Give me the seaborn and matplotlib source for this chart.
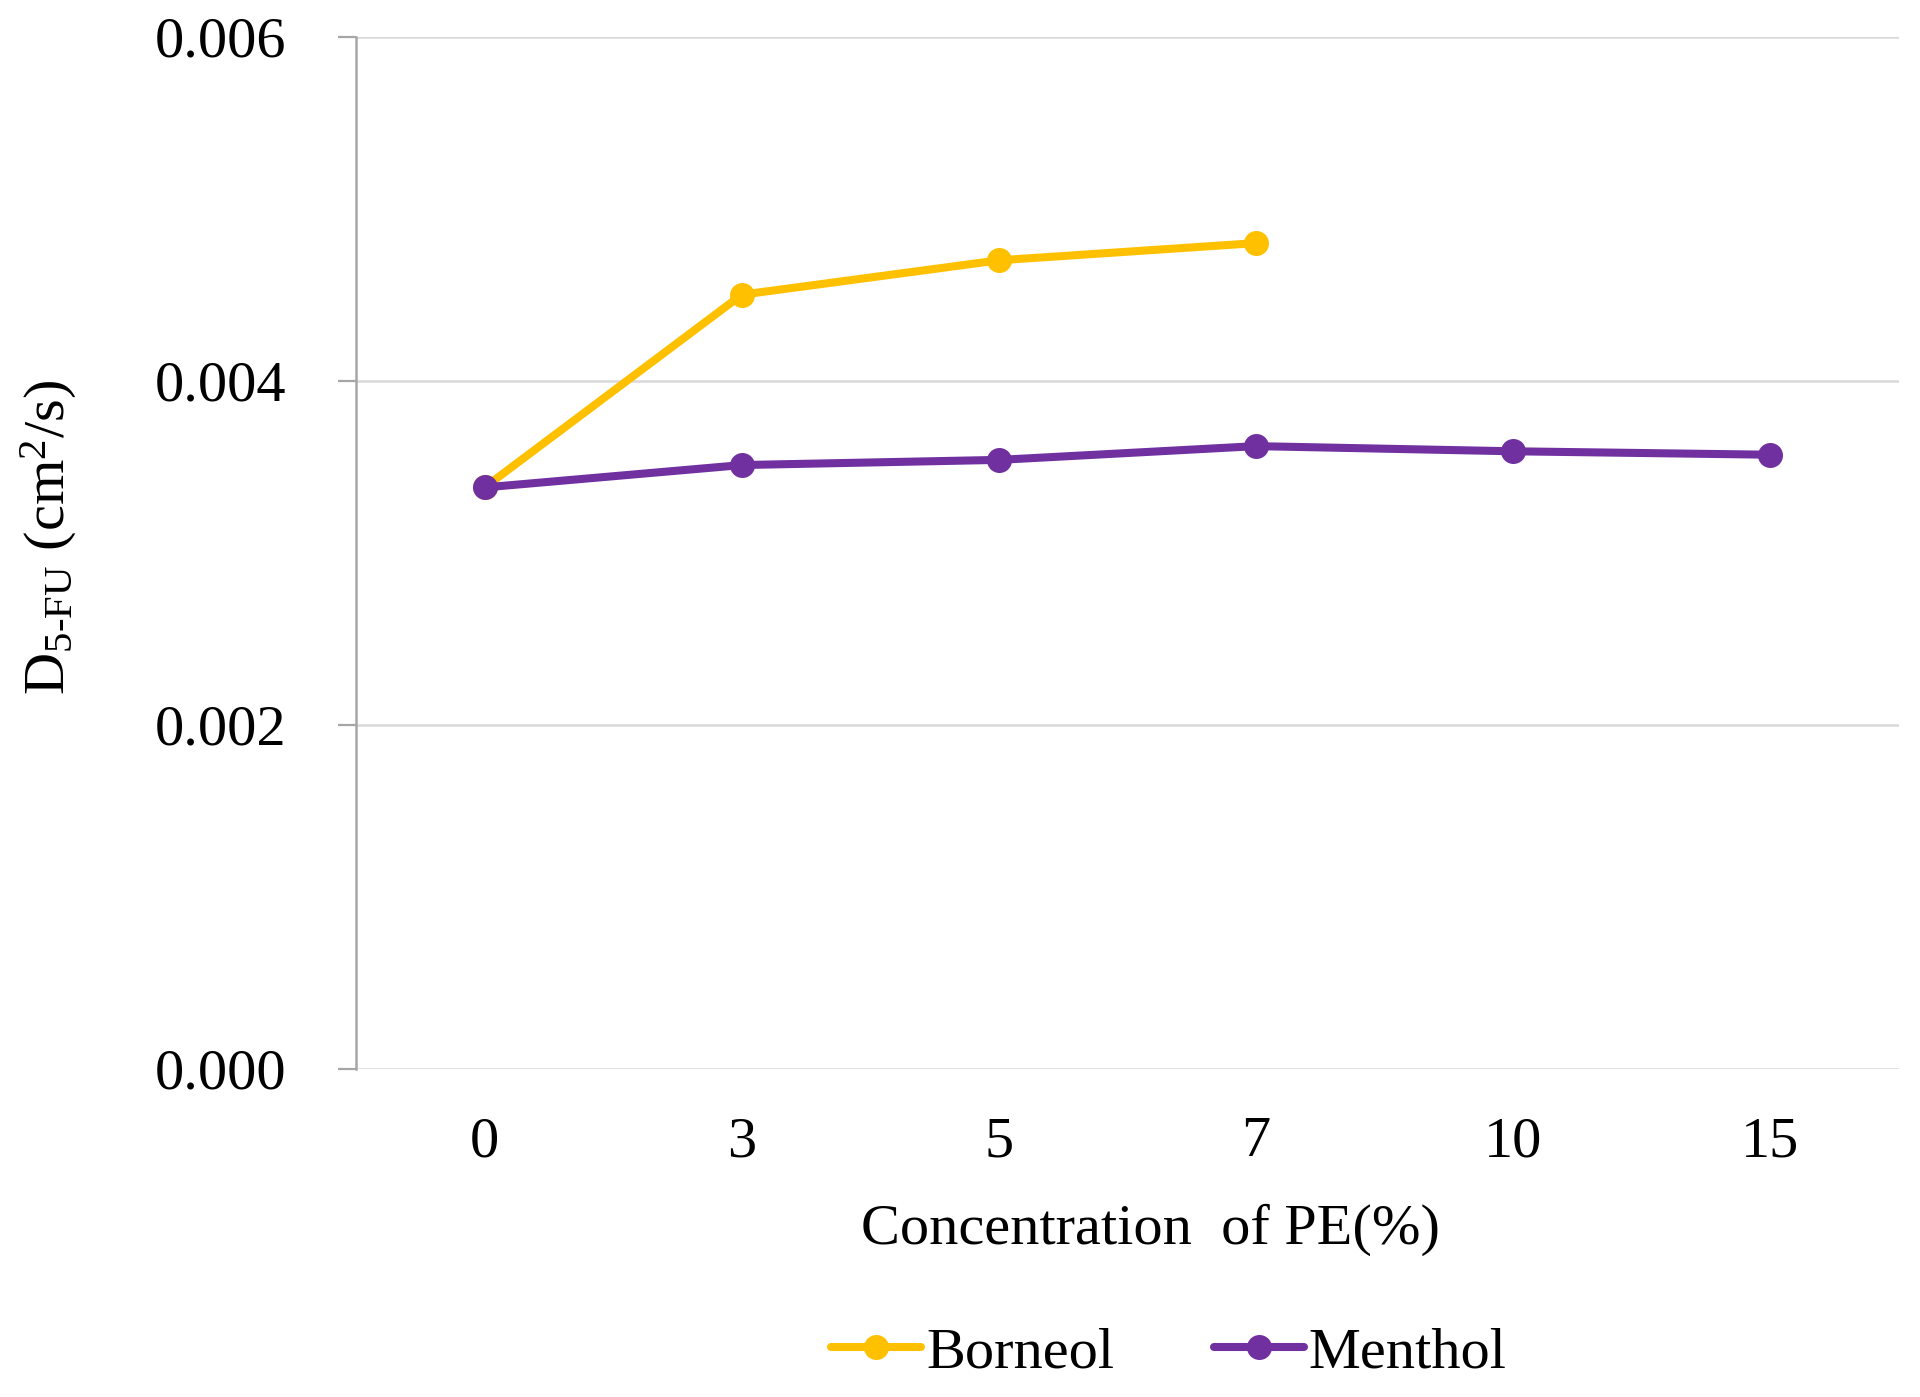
import matplotlib
matplotlib.use("Agg")
import matplotlib.pyplot as plt
import seaborn as sns
import pandas as pd
import numpy as np

# ---- data ----
concentrations = ["0", "3", "5", "7", "10", "15"]
borneol = [0.00338, 0.00450, 0.00470, 0.00480, None, None]
menthol = [0.00338, 0.00351, 0.00354, 0.00362, 0.00359, 0.00357]
series_names = ["Borneol", "Menthol"]
series_colors = ["#FFC000", "#7030A0"]
y_ticks = [0.000, 0.002, 0.004, 0.006]
y_tick_labels = ["0.000", "0.002", "0.004", "0.006"]
x_label = "Concentration  of PE(%)"
y_label = r"D$_{\mathrm{5}\text{-}\mathrm{FU}}$ (cm$^{\mathrm{2}}$/s)"

rows = []
for name, vals in zip(series_names, [borneol, menthol]):
    for c, v in zip(concentrations, vals):
        if v is not None:
            rows.append({"conc": c, "D": v, "series": name})
df = pd.DataFrame(rows)
df["conc"] = pd.Categorical(df["conc"], categories=concentrations, ordered=True)

sns.set_theme(style="white")
plt.rcParams["font.family"] = ["Liberation Serif", "DejaVu Serif"]
plt.rcParams["mathtext.fontset"] = "custom"
plt.rcParams["mathtext.rm"] = "Liberation Serif"
plt.rcParams["mathtext.it"] = "Liberation Serif:italic"
plt.rcParams["mathtext.bf"] = "Liberation Serif:bold"
plt.rcParams["text.color"] = "black"
plt.rcParams["axes.labelcolor"] = "black"

fig = plt.figure(figsize=(19.2, 13.97), dpi=100)
ax = fig.add_axes([0.18542, 0.23479, 0.80365, 0.7390])

sns.lineplot(data=df, x="conc", y="D", hue="series", hue_order=series_names,
             palette=series_colors, marker="o", markersize=18, markeredgewidth=0,
             linewidth=5.8, sort=False, ax=ax)

ax.set_xlim(-0.5, len(concentrations) - 0.5)
ax.set_ylim(0, 0.006)
ax.set_xticks(range(len(concentrations)))
ax.set_xticklabels(concentrations)
ax.set_yticks(y_ticks)
ax.set_yticklabels(y_tick_labels)

ax.grid(axis="y", color="#d9d9d9", linewidth=1.8)
ax.grid(axis="x", visible=False)
ax.set_axisbelow(True)
for s in ["top", "right", "bottom"]:
    ax.spines[s].set_visible(False)
ax.spines["left"].set_color("#a6a6a6")
ax.spines["left"].set_linewidth(1.8)

ax.tick_params(axis="y", which="major", length=13, width=1.6, color="#a6a6a6",
               pad=37, labelsize=42, labelcolor="black", left=True)
ax.tick_params(axis="x", which="major", length=0, pad=34, labelsize=42,
               labelcolor="black")

ax.set_xlabel(x_label, fontsize=42, color="black", va="center", ha="center")
ax.xaxis.set_label_coords(0.5146, -0.156)
ax.set_ylabel(y_label, fontsize=42, color="black", va="center", ha="center")
ax.yaxis.set_label_coords(-0.199, 0.515)

handles, labels = ax.get_legend_handles_labels()
leg = ax.get_legend()
if leg is not None:
    leg.remove()
fig.legend(handles, labels, loc="center", bbox_to_anchor=(0.6089, 0.0315),
           ncol=2, frameon=False, fontsize=42, handlelength=1.53,
           handletextpad=0.09, columnspacing=1.72, borderpad=0, borderaxespad=0,
           labelcolor="black")

fig.savefig("out.png", dpi=100, facecolor="white")
